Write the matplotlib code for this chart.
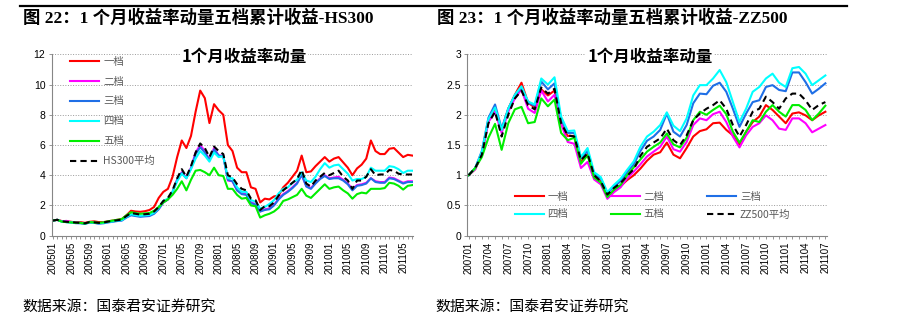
import matplotlib
matplotlib.use("Agg")
import matplotlib.pyplot as plt
from matplotlib.lines import Line2D
import pandas as pd

plt.rcParams['font.family'] = ['Noto Sans CJK SC', 'DejaVu Sans']

# month labels
hs_months = pd.period_range('2005-01', '2011-07', freq='M').strftime('%Y%m').tolist()
zz_months = pd.period_range('2007-01', '2011-07', freq='M').strftime('%Y%m').tolist()

# ---------------- HS300 quintile cumulative returns
hs_q1 = [1.0, 1.05, 0.97, 0.95, 0.92, 0.88, 0.9, 0.85, 0.92, 0.95, 0.9, 0.9,
         0.95, 1.0, 1.05, 1.1, 1.35, 1.65, 1.6, 1.58, 1.62, 1.7, 1.9, 2.5,
         2.9, 3.1, 3.9, 5.2, 6.3, 5.8, 6.6, 8.2, 9.6, 9.1, 7.45, 8.7, 8.3, 8.0,
         6.0, 5.6, 4.5, 4.2, 4.2, 3.2, 3.1, 2.2, 2.45, 2.4, 2.6, 2.65, 3.2, 3.5,
         3.9, 4.3, 5.3, 4.2, 4.25, 4.6, 4.9, 5.2, 4.9, 5.1, 5.2, 4.85, 4.5, 4.0,
         4.45, 4.7, 5.1, 6.3, 5.6, 5.4, 5.4, 5.75, 5.8, 5.5, 5.2, 5.35, 5.3]
hs_q2 = [1.0, 1.05, 0.95, 0.98, 0.9, 0.85, 0.85, 0.8, 0.88, 0.85, 0.82, 0.85,
         0.9, 0.95, 1.0, 1.02, 1.25, 1.4, 1.35, 1.3, 1.32, 1.35, 1.5, 1.8,
         2.2, 2.4, 2.9, 3.7, 4.2, 3.85, 4.5, 5.5, 6.0, 5.6, 5.0, 5.8, 5.3, 5.3,
         3.65, 3.6, 3.0, 2.8, 2.75, 2.2, 2.1, 1.6, 1.75, 1.8, 2.05, 2.45, 2.75, 2.95,
         3.2, 3.5, 4.0, 3.3, 3.15, 3.5, 3.8, 4.0, 3.8, 3.85, 3.9, 3.7, 3.45, 3.1,
         3.35, 3.4, 3.5, 3.8, 3.6, 3.55, 3.55, 3.85, 3.8, 3.65, 3.5, 3.6, 3.6]
hs_q3 = [1.0, 1.05, 0.93, 0.9, 0.87, 0.83, 0.82, 0.78, 0.87, 0.85, 0.8, 0.82,
         0.88, 0.92, 0.97, 1.0, 1.2, 1.35, 1.3, 1.25, 1.28, 1.3, 1.45, 1.75,
         2.2, 2.4, 2.9, 3.7, 4.15, 3.8, 4.45, 5.4, 5.85, 5.5, 5.0, 5.7, 5.3, 5.25,
         3.7, 3.6, 3.0, 2.75, 2.7, 2.15, 2.05, 1.6, 1.7, 1.75, 2.0, 2.4, 2.7, 2.9,
         3.15, 3.45, 4.05, 3.25, 3.1, 3.45, 3.75, 3.95, 3.75, 3.8, 3.8, 3.65, 3.4, 3.0,
         3.3, 3.35, 3.45, 3.8, 3.55, 3.5, 3.5, 3.8, 3.75, 3.6, 3.45, 3.55, 3.55]
hs_q4 = [1.0, 1.05, 0.93, 0.9, 0.88, 0.85, 0.85, 0.8, 0.88, 0.86, 0.82, 0.85,
         0.9, 0.95, 1.0, 1.03, 1.25, 1.42, 1.36, 1.32, 1.35, 1.38, 1.52, 1.85,
         2.3, 2.45, 2.9, 3.6, 4.1, 3.8, 4.4, 5.1, 5.6, 5.3, 4.9, 5.5, 5.2, 5.25,
         3.8, 3.8, 3.2, 2.9, 2.9, 2.35, 2.25, 1.8, 1.9, 2.1, 2.35, 2.8, 3.1, 3.2,
         3.5, 3.7, 4.2, 3.65, 3.55, 3.9, 4.4, 4.8, 4.5, 4.65, 4.7, 4.4, 4.1, 3.65,
         3.75, 3.75, 3.9, 4.5, 4.3, 4.3, 4.3, 4.6, 4.55, 4.4, 4.15, 4.3, 4.3]
hs_q5 = [1.0, 1.05, 0.93, 0.9, 0.88, 0.85, 0.85, 0.8, 0.9, 0.88, 0.85, 0.88,
         0.95, 1.0, 1.05, 1.1, 1.35, 1.55, 1.5, 1.45, 1.48, 1.5, 1.65, 1.9,
         2.2, 2.4, 2.7, 3.1, 3.6, 3.0, 3.7, 4.3, 4.35, 4.2, 4.0, 4.5, 4.0, 3.95,
         3.1, 3.1, 2.7, 2.45, 2.5, 2.0, 1.95, 1.2, 1.35, 1.45, 1.6, 1.85, 2.3, 2.4,
         2.55, 2.7, 3.1, 2.65, 2.5, 2.8, 3.1, 3.4, 3.1, 3.2, 3.25, 3.0, 2.8, 2.45,
         2.75, 2.85, 2.8, 3.1, 3.1, 3.1, 3.15, 3.5, 3.45, 3.3, 3.05, 3.3, 3.35]
hs_avg = [1.0, 1.05, 0.95, 0.92, 0.9, 0.87, 0.85, 0.82, 0.9, 0.88, 0.85, 0.87,
          0.93, 0.98, 1.02, 1.07, 1.3, 1.5, 1.45, 1.4, 1.42, 1.45, 1.6, 1.9,
          2.3, 2.5, 3.0, 3.8, 4.4, 3.9, 4.6, 5.5, 6.1, 5.8, 5.2, 5.9, 5.6, 5.4,
          4.0, 3.85, 3.4, 3.1, 3.0, 2.45, 2.35, 1.7, 1.95, 1.95, 2.2, 2.65, 3.0, 3.25,
          3.5, 3.75, 4.35, 3.45, 3.25, 3.65, 3.9, 4.15, 4.0, 4.15, 4.3, 3.9, 3.65, 3.1,
          3.65, 3.65, 3.9, 4.4, 4.0, 4.05, 4.05, 4.35, 4.3, 4.1, 4.05, 4.05, 4.05]

# ---------------- ZZ500 quintile cumulative returns
zz_q1 = [1.0, 1.1, 1.36, 1.9, 2.08, 1.75, 2.1, 2.33, 2.53, 2.2, 2.12, 2.42,
         2.32, 2.4, 1.85, 1.65, 1.65, 1.22, 1.35, 0.98, 0.9, 0.64, 0.74, 0.82,
         0.92, 1.0, 1.11, 1.24, 1.34, 1.38, 1.54, 1.34, 1.28, 1.45, 1.64, 1.73,
         1.76, 1.86, 1.87, 1.75, 1.66, 1.5, 1.72, 1.88, 1.97, 2.16, 2.08, 1.97,
         1.86, 2.02, 2.04, 1.99, 1.91, 1.99, 2.05]
zz_q2 = [1.0, 1.1, 1.34, 1.88, 2.05, 1.7, 2.05, 2.27, 2.42, 2.1, 2.03, 2.4,
         2.22, 2.33, 1.85, 1.55, 1.52, 1.12, 1.22, 0.93, 0.85, 0.61, 0.72, 0.8,
         0.95, 1.06, 1.18, 1.31, 1.39, 1.47, 1.64, 1.43, 1.39, 1.55, 1.83, 1.94,
         1.91, 2.01, 2.05, 1.88, 1.64, 1.46, 1.66, 1.8, 1.86, 1.99, 1.91, 1.77,
         1.75, 1.94, 1.94, 1.86, 1.71, 1.77, 1.83]
zz_q3 = [1.0, 1.12, 1.4, 1.95, 2.17, 1.77, 2.1, 2.32, 2.45, 2.2, 2.15, 2.55,
         2.42, 2.52, 1.93, 1.7, 1.7, 1.28, 1.4, 1.02, 0.95, 0.7, 0.81, 0.9,
         1.05, 1.18, 1.4, 1.57, 1.64, 1.75, 2.02, 1.72, 1.64, 1.83, 2.19, 2.35,
         2.34, 2.48, 2.53, 2.38, 2.1, 1.8, 2.02, 2.21, 2.24, 2.46, 2.49, 2.41,
         2.39, 2.7, 2.7, 2.54, 2.35, 2.43, 2.52]
zz_q4 = [1.0, 1.12, 1.38, 1.93, 2.12, 1.75, 2.1, 2.33, 2.47, 2.22, 2.17, 2.6,
         2.5, 2.62, 1.97, 1.73, 1.74, 1.3, 1.45, 1.05, 0.97, 0.72, 0.84, 0.94,
         1.09, 1.23, 1.47, 1.64, 1.72, 1.83, 2.04, 1.82, 1.73, 1.94, 2.32, 2.49,
         2.49, 2.6, 2.74, 2.54, 2.21, 1.88, 2.1, 2.38, 2.46, 2.6, 2.68, 2.53,
         2.46, 2.77, 2.79, 2.68, 2.49, 2.57, 2.65]
zz_q5 = [1.0, 1.12, 1.3, 1.62, 1.85, 1.42, 1.86, 2.09, 2.13, 1.86, 1.88, 2.27,
         2.14, 2.25, 1.7, 1.58, 1.62, 1.19, 1.33, 0.96, 0.88, 0.64, 0.76, 0.84,
         1.0, 1.13, 1.26, 1.39, 1.47, 1.54, 1.69, 1.51, 1.46, 1.62, 1.91, 2.05,
         2.0, 2.08, 2.15, 2.01, 1.72, 1.54, 1.72, 1.91, 1.88, 2.05, 2.16, 2.05,
         1.97, 2.16, 2.16, 2.08, 1.91, 2.02, 2.15]
zz_avg = [1.0, 1.12, 1.34, 1.86, 2.05, 1.64, 2.0, 2.27, 2.4, 2.16, 2.09, 2.45,
          2.35, 2.43, 1.86, 1.66, 1.64, 1.25, 1.36, 1.0, 0.9, 0.68, 0.79, 0.87,
          0.99, 1.1, 1.32, 1.47, 1.54, 1.61, 1.77, 1.58, 1.5, 1.66, 1.91, 2.02,
          2.1, 2.16, 2.24, 2.1, 1.83, 1.64, 1.83, 2.05, 2.1, 2.3, 2.21, 2.1,
          2.27, 2.35, 2.35, 2.24, 2.08, 2.16, 2.21]

labels = ['一档', '二档', '三档', '四档', '五档']
colors = ['#FF0000', '#FF00FF', '#1F6FE6', '#00FFFF', '#00EE00']

grey = '#868686'
tick_font = ['Liberation Sans', 'DejaVu Sans']


def style_axes(ax, months, step, ymax, ystep):
    n = len(months)
    ax.set_xlim(-0.2, n - 0.8)
    ax.set_ylim(0, ymax)
    yt = [ystep * k for k in range(int(round(ymax / ystep)) + 1)]
    ax.set_yticks(yt)
    ax.set_yticklabels([('%g' % v) for v in yt], fontsize=7.5, family=tick_font)
    ax.set_xticks(range(0, n, step))
    ax.set_xticklabels(months[::step], rotation=90, fontsize=7, family=tick_font)
    ax.set_xticks(range(n), minor=True)
    for s in ['top', 'right']:
        ax.spines[s].set_visible(False)
    for s in ['left', 'bottom']:
        ax.spines[s].set_color(grey)
        ax.spines[s].set_linewidth(0.8)
    ax.tick_params(axis='both', which='both', direction='out', length=2.5,
                   width=0.6, color=grey, pad=2)
    ax.grid(axis='y', linestyle=':', color='#9A9A9A', linewidth=0.7)
    ax.set_axisbelow(True)


fig = plt.figure(figsize=(9, 3.21), dpi=100)
ax1 = fig.add_axes([51.7 / 900, 1 - 235.7 / 321, 361.6 / 900, 181.4 / 321])
ax2 = fig.add_axes([467.3 / 900, 1 - 235.7 / 321, 359.4 / 900, 181.4 / 321])

# left: HS300
for ys, lab, c in zip([hs_q1, hs_q2, hs_q3, hs_q4, hs_q5], labels, colors):
    ax1.plot(range(len(hs_months)), ys, color=c, lw=1.5, label=lab)
ax1.plot(range(len(hs_months)), hs_avg, color='black', lw=1.5,
         linestyle=(0, (3, 2)), label='HS300平均')
style_axes(ax1, hs_months, 4, 12, 2)
leg1 = ax1.legend(loc='upper left', bbox_to_anchor=(0.04, 1.01), frameon=False,
                  fontsize=7.5, handlelength=2.8, handletextpad=0.35,
                  labelspacing=0.95, borderaxespad=0)
for t in leg1.get_texts():
    t.set_color('#595959')

# right: ZZ500
zz_lines = []
for ys, lab, c in zip([zz_q1, zz_q2, zz_q3, zz_q4, zz_q5], labels, colors):
    zz_lines += ax2.plot(range(len(zz_months)), ys, color=c, lw=1.5, label=lab)
zz_lines += ax2.plot(range(len(zz_months)), zz_avg, color='black', lw=1.5,
                     linestyle=(0, (3, 2)), label='ZZ500平均')
style_axes(ax2, zz_months, 3, 3, 0.5)
order = [0, 3, 1, 4, 2, 5]
leg2 = ax2.legend([zz_lines[i] for i in order],
                  [zz_lines[i].get_label() for i in order],
                  loc='upper left', bbox_to_anchor=(0.12, 0.266), ncol=3,
                  frameon=False, fontsize=7.5, handlelength=2.8,
                  handletextpad=0.35, labelspacing=0.75, columnspacing=4.1,
                  borderaxespad=0)
for t in leg2.get_texts():
    t.set_color('#595959')

# chart titles
title_kw = dict(fontsize=11.9, fontweight='bold', ha='center', va='center',
                bbox=dict(facecolor='white', edgecolor='none', pad=1))
fig.text(244 / 900, 1 - 57 / 321, '1个月收益率动量', **title_kw)
fig.text(650 / 900, 1 - 57 / 321, '1个月收益率动量', **title_kw)

# captions
cap_font = ['Liberation Serif', 'Noto Sans CJK SC']
fig.text(23 / 900, 1 - 18 / 321, '图 22：1 个月收益率动量五档累计收益-HS300',
         fontsize=12.5, fontweight='bold', family=cap_font, va='center')
fig.text(437 / 900, 1 - 18 / 321, '图 23：1 个月收益率动量五档累计收益-ZZ500',
         fontsize=12.5, fontweight='bold', family=cap_font, va='center')

# sources
fig.text(22 / 900, 1 - 307 / 321, '数据来源：国泰君安证券研究', fontsize=10.7, va='center')
fig.text(435 / 900, 1 - 307 / 321, '数据来源：国泰君安证券研究', fontsize=10.7, va='center')

# header rule
fig.add_artist(Line2D([20 / 900, 847 / 900], [1 - 6 / 321, 1 - 6 / 321],
                      color='black', lw=1.6))

fig.savefig('out.png', dpi=100)
